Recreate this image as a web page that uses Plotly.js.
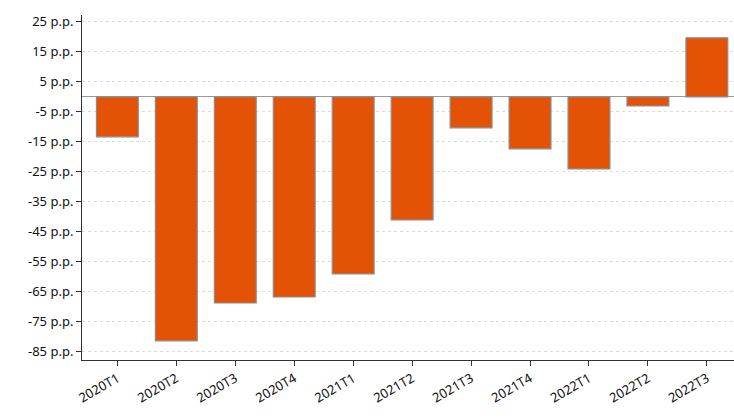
<!DOCTYPE html>
<html>
<head>
<meta charset="utf-8">
<script src="https://cdn.plot.ly/plotly-3.0.1.min.js"></script>
<style>body{margin:0}#chart{width:734px;height:418px}</style>
</head>
<body>
<div id="chart"></div>
<script>
const quarters = ["2020T1","2020T2","2020T3","2020T4","2021T1","2021T2","2021T3","2021T4","2022T1","2022T2","2022T3"];
const values = [-13.3, -81.3, -68.7, -66.7, -59, -41, -10.3, -17.3, -24, -3, 19.7];
const tickVals = [25, 15, 5, -5, -15, -25, -35, -45, -55, -65, -75, -85];
const tickText = tickVals.map(v => v + " p.p.");

const trace = {
  type: "bar",
  x: quarters,
  y: values,
  marker: { color: "#e35205", line: { color: "#8c8c8c", width: 1.2 } },
  hoverinfo: "x+y"
};

const layout = {
  width: 734, height: 418,
  margin: { l: 82, r: 0, t: 15, b: 58 },
  paper_bgcolor: "white", plot_bgcolor: "white",
  font: { family: "Noto Sans, Open Sans, sans-serif", size: 13, color: "#111" },
  showlegend: false,
  bargap: 0.29,
  xaxis: {
    type: "category", range: [-0.6, 10.46],
    tickangle: -30, ticks: "outside", ticklen: 5, tickcolor: "#333",
    showline: true, linecolor: "#333", showgrid: false, zeroline: false
  },
  yaxis: {
    range: [-87.7, 27.3],
    tickvals: tickVals, ticktext: tickText,
    ticks: "outside", ticklen: 5, tickcolor: "#333",
    showline: true, linecolor: "#333",
    showgrid: true, gridcolor: "#dcdcdc", griddash: "dot", gridwidth: 0.8,
    zeroline: true, zerolinecolor: "#999", zerolinewidth: 1
  }
};

Plotly.newPlot("chart", [trace], layout, { displayModeBar: false });
</script>
</body>
</html>
